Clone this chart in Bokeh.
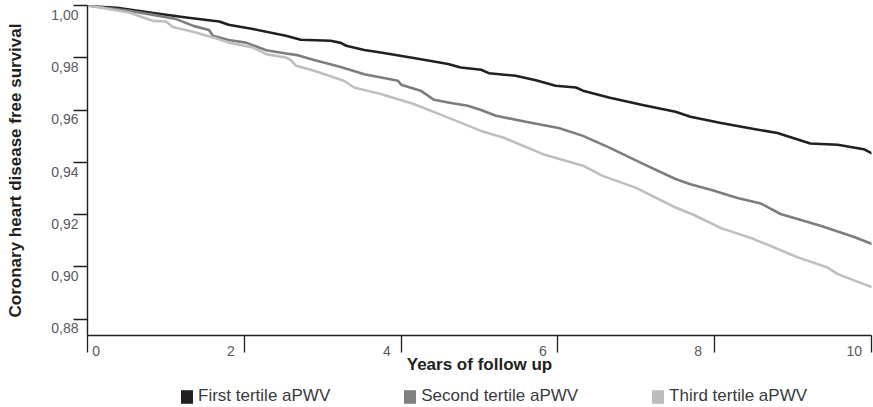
from bokeh.plotting import figure
from bokeh.models import Range1d, FixedTicker, Legend, LegendItem
from bokeh.layouts import column
from bokeh.embed import file_html
from bokeh.resources import INLINE

# ---- data ----
series_names = ["First tertile aPWV", "Second tertile aPWV", "Third tertile aPWV"]

first_years = [0.0, 0.40, 0.84, 1.26, 1.68, 1.80, 2.11, 2.53, 2.72, 3.10, 3.23, 3.30, 3.53, 3.74,
               4.16, 4.60, 4.76, 5.02, 5.12, 5.46, 5.72, 5.97, 6.23, 6.32, 6.65, 7.08, 7.50, 7.69,
               8.08, 8.50, 8.80, 9.22, 9.57, 9.90, 10.0]
first_surv = [1.0000, 0.9990, 0.9971, 0.9954, 0.9939, 0.9926, 0.9910, 0.9884, 0.9869, 0.9865,
              0.9857, 0.9846, 0.9830, 0.9820, 0.9799, 0.9776, 0.9763, 0.9754, 0.9741, 0.9731,
              0.9714, 0.9693, 0.9686, 0.9674, 0.9648, 0.9619, 0.9593, 0.9574, 0.9550, 0.9527,
              0.9512, 0.9472, 0.9467, 0.9450, 0.9435]

second_years = [0.0, 0.53, 0.84, 1.13, 1.35, 1.55, 1.60, 1.80, 2.02, 2.28, 2.53, 2.68, 2.89, 3.23,
                3.53, 3.96, 4.00, 4.25, 4.42, 4.60, 4.85, 5.02, 5.21, 5.59, 6.01, 6.32, 6.65, 7.08,
                7.50, 7.69, 7.95, 8.29, 8.59, 8.84, 9.35, 9.77, 10.0]
second_surv = [1.0000, 0.9980, 0.9964, 0.9948, 0.9922, 0.9906, 0.9884, 0.9868, 0.9858, 0.9829,
               0.9816, 0.9810, 0.9791, 0.9765, 0.9737, 0.9712, 0.9697, 0.9674, 0.9639, 0.9629,
               0.9616, 0.9600, 0.9578, 0.9555, 0.9531, 0.9501, 0.9457, 0.9395, 0.9336, 0.9316,
               0.9295, 0.9263, 0.9242, 0.9202, 0.9157, 0.9115, 0.9088]

third_years = [0.0, 0.53, 0.71, 0.84, 1.00, 1.09, 1.38, 1.60, 1.80, 2.11, 2.28, 2.53, 2.59, 2.66,
               2.89, 3.27, 3.40, 3.74, 4.16, 4.60, 5.02, 5.30, 5.81, 6.32, 6.57, 6.99, 7.50, 7.73,
               8.08, 8.50, 9.06, 9.44, 9.57, 9.96, 10.0]
third_surv = [1.0000, 0.9973, 0.9954, 0.9941, 0.9939, 0.9918, 0.9897, 0.9878, 0.9858, 0.9839,
              0.9814, 0.9801, 0.9792, 0.9769, 0.9750, 0.9712, 0.9686, 0.9661, 0.9623, 0.9571,
              0.9520, 0.9495, 0.9431, 0.9387, 0.9348, 0.9303, 0.9227, 0.9199, 0.9148, 0.9106,
              0.9036, 0.8997, 0.8972, 0.8927, 0.8923]

y_tick_values = [0.88, 0.90, 0.92, 0.94, 0.96, 0.98, 1.00]
y_tick_labels = ["0,88", "0,90", "0,92", "0,94", "0,96", "0,98", "1,00"]
x_tick_values = [0, 2, 4, 6, 8, 10]
x_tick_labels = ["0", "2", "4", "6", "8", "10"]

# ---- styling / layout ----
FONT = "Liberation Sans"
line_colors = ["#231f20", "#7d7d7f", "#bfbfc1"]
legend_colors = ["#231f20", "#808082", "#bcbcbe"]
# labels sit a little below / left of their tick marks in the original
y_label_shift = -0.0036
x_label_shift = [0.11, -0.17, -0.18, -0.19, -0.21, -0.22]

p = figure(width=873, height=385, output_backend="svg", toolbar_location=None,
           x_range=Range1d(0, 10), y_range=Range1d(0.8737, 1.0),
           min_border_left=87, min_border_right=2, min_border_top=5, min_border_bottom=50,
           tools="")
p.outline_line_color = None
p.grid.visible = False
p.background_fill_color = "white"
p.border_fill_color = "white"

series = [(first_years, first_surv), (second_years, second_surv), (third_years, third_surv)]
for (xs, ys), c in zip(series, line_colors):
    p.line(xs, ys, line_color=c, line_width=2.6, line_join="round", line_cap="round")

# y axis: minor ticks = tick marks, major ticks = shifted labels
y_label_pos = [round(v + y_label_shift, 4) for v in y_tick_values]
yax = p.yaxis[0]
yax.ticker = FixedTicker(ticks=y_label_pos, minor_ticks=y_tick_values)
yax.major_label_overrides = {pos: lab for pos, lab in zip(y_label_pos, y_tick_labels)}
yax.major_tick_out = 0
yax.major_tick_in = 0
yax.minor_tick_out = 14
yax.minor_tick_in = 0
yax.minor_tick_line_color = "#231f20"
yax.minor_tick_line_width = 1.3
yax.axis_line_color = "#231f20"
yax.axis_line_width = 1.4
yax.major_label_standoff = -5
yax.major_label_text_font = FONT
yax.major_label_text_font_size = "14px"
yax.major_label_text_color = "#58595b"
yax.axis_label = "Coronary heart disease free survival"
yax.axis_label_text_font = FONT
yax.axis_label_text_font_size = "17px"
yax.axis_label_text_font_style = "bold"
yax.axis_label_text_color = "#231f20"
yax.axis_label_standoff = 23

x_label_pos = [round(v + s, 3) for v, s in zip(x_tick_values, x_label_shift)]
xax = p.xaxis[0]
xax.ticker = FixedTicker(ticks=x_label_pos, minor_ticks=x_tick_values)
xax.major_label_overrides = {pos: lab for pos, lab in zip(x_label_pos, x_tick_labels)}
xax.major_tick_out = 0
xax.major_tick_in = 0
xax.minor_tick_out = 17
xax.minor_tick_in = 0
xax.minor_tick_line_color = "#231f20"
xax.minor_tick_line_width = 1.3
xax.axis_line_color = "#231f20"
xax.axis_line_width = 1.4
xax.major_label_standoff = -7
xax.major_label_text_font = FONT
xax.major_label_text_font_size = "14px"
xax.major_label_text_color = "#58595b"
xax.axis_label = "Years of follow up"
xax.axis_label_text_font = FONT
xax.axis_label_text_font_size = "17px"
xax.axis_label_text_font_style = "bold"
xax.axis_label_text_color = "#231f20"
xax.axis_label_standoff = -4

# legend strip below the chart (its frame is aligned with the chart's frame by the column)
lf = figure(width=873, height=22, output_backend="svg", toolbar_location=None, tools="",
            x_range=Range1d(0, 1), y_range=Range1d(0, 1),
            min_border_left=0, min_border_right=0, min_border_top=0, min_border_bottom=0)
lf.axis.visible = False
lf.grid.visible = False
lf.outline_line_color = None
nan = float("nan")
items = []
for name, c in zip(series_names, legend_colors):
    # swatch-only renderer: a single undrawable (NaN) quad so the legend can paint its square
    r = lf.quad(left=[nan], right=[nan], bottom=[nan], top=[nan], fill_color=c, line_color=None)
    items.append(LegendItem(label=name, renderers=[r]))
legend = Legend(items=items, orientation="horizontal", location=(92, 1),
                glyph_width=15, glyph_height=17, label_standoff=4, spacing=72,
                padding=0, margin=0, border_line_color=None, background_fill_alpha=0,
                label_text_font=FONT, label_text_font_size="17px", label_text_color="#3a3a3c")
lf.add_layout(legend)

layout = column(p, lf, spacing=0)
open("out.html", "w").write(file_html(layout, INLINE))
